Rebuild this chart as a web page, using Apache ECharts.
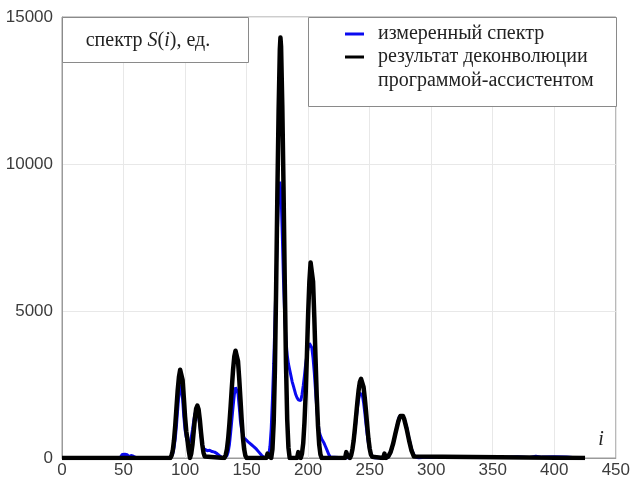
<!DOCTYPE html>
<html>
<head>
<meta charset="utf-8">
<script src="https://cdn.jsdelivr.net/npm/echarts@6/dist/echarts.min.js"></script>
<style>
  html, body { margin: 0; padding: 0; background: #fff; }
  #chart { width: 633px; height: 483px; }
</style>
</head>
<body>
<div id="chart"></div>
<script>
// измеренный спектр, пары [i, S]
var measured = [
  [0,0],[47,0],[48,60],[49,120],[50,80],[51,130],[52,70],[53,110],[54,50],[55,20],[56,90],[57,110],[58,60],[59,30],[61,0],
  [88,0],[89,60],[90,150],[91,350],[92,650],[93,1100],[94,1650],[95,2200],[96,2500],[97,2450],[98,2000],[99,1400],[100,950],[101,700],
  [102,550],[103,500],[104,550],[105,700],[106,950],[107,1250],[108,1500],[109,1600],[110,1580],[111,1400],[112,1100],
  [113,750],[114,450],[115,320],[116,280],[118,250],[120,260],[122,220],[124,200],[126,150],[128,80],[130,20],[132,0],
  [133,0],[134,80],[135,200],[136,450],[137,850],[138,1300],[139,1750],[140,2150],[141,2400],[142,2420],[143,2200],[144,1750],
  [145,1250],[146,950],[147,780],[148,680],[150,600],[152,520],[154,450],[156,380],[158,300],[160,200],[162,100],[164,20],[166,0],
  [167,0],[168,100],[169,400],[170,1000],[171,2000],[172,3200],[173,4600],[174,6200],[175,7700],[176,8900],[177,9400],
  [178,9000],[179,7600],[180,6000],[181,4800],[182,4000],[183,3500],[184,3200],[185,3000],[186,2800],[187,2600],
  [188,2450],[189,2300],[190,2150],[191,2050],[192,1980],[193,1930],[194,1950],[195,2150],[196,2450],[197,2800],
  [198,3200],[199,3500],[200,3750],[201,3900],[202,3900],[203,3750],[204,3400],[205,2900],[206,2300],[207,1700],
  [208,1200],[209,900],[210,750],[211,650],[212,600],[213,500],[214,400],[215,300],[216,200],[217,100],[218,30],[219,0],
  [232,0],[234,50],[235,150],[236,300],[237,550],[238,900],[239,1300],[240,1700],[241,2000],[242,2200],[243,2250],
  [244,2150],[245,1900],[246,1550],[247,1150],[248,800],[249,500],[250,300],[251,150],[252,60],[254,0],
  [264,0],[266,100],[268,300],[270,650],[272,1050],[273,1250],[274,1400],[275,1450],[276,1450],[277,1420],[278,1350],
  [280,1050],[282,650],[284,300],[286,100],[288,20],[290,0],
  [295,30],[300,20],[305,40],[310,50],[315,30],[320,40],[330,30],[340,50],[345,20],[350,30],[360,20],[370,40],
  [380,20],[385,60],[390,30],[400,40],[410,30],[420,0]
];

// результат деконволюции
var deconvolved = [
  [0,0],[88,0],[89,80],[90,250],[91,600],[92,1100],[93,1700],[94,2300],[95,2750],[96,3000],[97,2980],[98,2650],
  [99,2050],[100,1400],[101,900],[102,600],[103,250],[104,0],
  [105,150],[106,450],[107,900],[108,1350],[109,1680],[110,1780],[111,1650],[112,1300],[113,850],[114,450],[115,180],[116,50],[117,0],
  [132,0],[133,100],[134,300],[135,650],[136,1150],[137,1750],[138,2400],[139,3000],[140,3450],[141,3650],[142,3620],
  [143,3300],[144,2700],[145,2000],[146,1300],[147,700],[148,300],[149,80],[150,0],
  [166,0],[167,150],[168,60],[170,0],[171,300],[172,1200],[173,3000],[174,5800],[175,9000],[176,11800],[177,13900],
  [177.5,14300],[178,14000],[179,12000],[180,9200],[181,6000],[182,3200],[183,1300],[184,350],[185,0],
  [191,0],[192,200],[193,80],[194,0],[195,150],[196,500],[197,1200],[198,2200],[199,3500],[200,4900],[201,6000],[202,6650],
  [203,6650],[204,6000],[205,4800],[206,3400],[207,2100],[208,1100],[209,450],[210,120],[211,0],
  [230,0],[231,200],[232,80],[234,0],[235,100],[236,300],[237,600],[238,1000],[239,1450],[240,1900],[241,2300],[242,2580],
  [243,2690],[244,2650],[245,2420],[246,2050],[247,1600],[248,1100],[249,650],[250,320],[251,120],[252,40],[253,0],
  [261,0],[262,150],[263,0],[265,50],[267,200],[269,480],[271,850],[273,1200],[274,1340],[275,1430],[276,1460],[277,1430],
  [278,1330],[280,1000],[282,600],[284,250],[286,50],[287,0],[425,0]
];

var seriesNames = ['измеренный спектр', 'результат деконволюции'];
var legendExtra = 'программой-ассистентом';
var yTitle = 'спектр {it|S}({it|i}), ед.';

var myChart = echarts.init(document.getElementById('chart'));
var serif = '"Liberation Serif", "DejaVu Serif", serif';
var sans = '"Liberation Sans", Arial, sans-serif';

var option = {
  animation: false,
  backgroundColor: '#fff',
  grid: {
    left: 62, right: 16, top: 17, bottom: 25,
    show: true, borderColor: '#9a9a9a', borderWidth: 1
  },
  xAxis: {
    type: 'value', min: 0, max: 450, interval: 50,
    axisLine: { show: true, onZero: false, lineStyle: { color: '#9a9a9a' } },
    axisTick: { show: false },
    axisLabel: { color: '#3c3c3c', fontSize: 17, fontFamily: sans, margin: 4 },
    splitLine: { show: true, lineStyle: { color: '#e8e8e8', width: 1 } }
  },
  yAxis: {
    type: 'value', min: 0, max: 15000, interval: 5000,
    axisLine: { show: true, lineStyle: { color: '#9a9a9a' } },
    axisTick: { show: false },
    axisLabel: { color: '#3c3c3c', fontSize: 17, fontFamily: sans, margin: 9,
      formatter: function (v) { return String(v); } },
    splitLine: { show: true, lineStyle: { color: '#e8e8e8', width: 1 } }
  },
  legend: {
    orient: 'vertical',
    left: 340, top: 18,
    z: 20,
    itemWidth: 19, itemHeight: 3, itemGap: 1,
    icon: 'rect',
    data: seriesNames,
    textStyle: { fontFamily: serif, fontSize: 20, color: '#222', lineHeight: 22, padding: [0, 0, 0, 9] }
  },
  graphic: [
    { type: 'rect', z: 10, shape: { x: 62.5, y: 17.5, width: 186, height: 45 },
      style: { fill: '#fff', stroke: '#8a8a8a', lineWidth: 1 } },
    { type: 'text', z: 11, x: 148, y: 41,
      style: { text: yTitle, fontFamily: serif, fontSize: 20, fill: '#222', align: 'center', verticalAlign: 'middle',
        rich: { it: { fontStyle: 'italic', fontFamily: serif, fontSize: 20, fill: '#222' } } } },
    { type: 'rect', z: 10, shape: { x: 308.5, y: 17.5, width: 308, height: 89 },
      style: { fill: '#fff', stroke: '#8a8a8a', lineWidth: 1 } },
    { type: 'text', z: 11, x: 378, y: 81,
      style: { text: legendExtra, fontFamily: serif, fontSize: 20, fill: '#222', verticalAlign: 'middle' } },
    { type: 'text', z: 11, x: 601, y: 440,
      style: { text: 'i', fontFamily: serif, fontStyle: 'italic', fontSize: 20, fill: '#222', align: 'center', verticalAlign: 'middle' } }
  ],
  series: [
    {
      name: seriesNames[0], type: 'line', data: measured,
      symbol: 'none', smooth: false,
      itemStyle: { color: '#0a0af0' },
      lineStyle: { color: '#0a0af0', width: 3 },
      z: 2
    },
    {
      name: seriesNames[1], type: 'line', data: deconvolved,
      symbol: 'none', smooth: false,
      itemStyle: { color: '#000' },
      lineStyle: { color: '#000', width: 4.5, join: 'round' },
      z: 3
    }
  ]
};
myChart.setOption(option);
</script>
</body>
</html>
